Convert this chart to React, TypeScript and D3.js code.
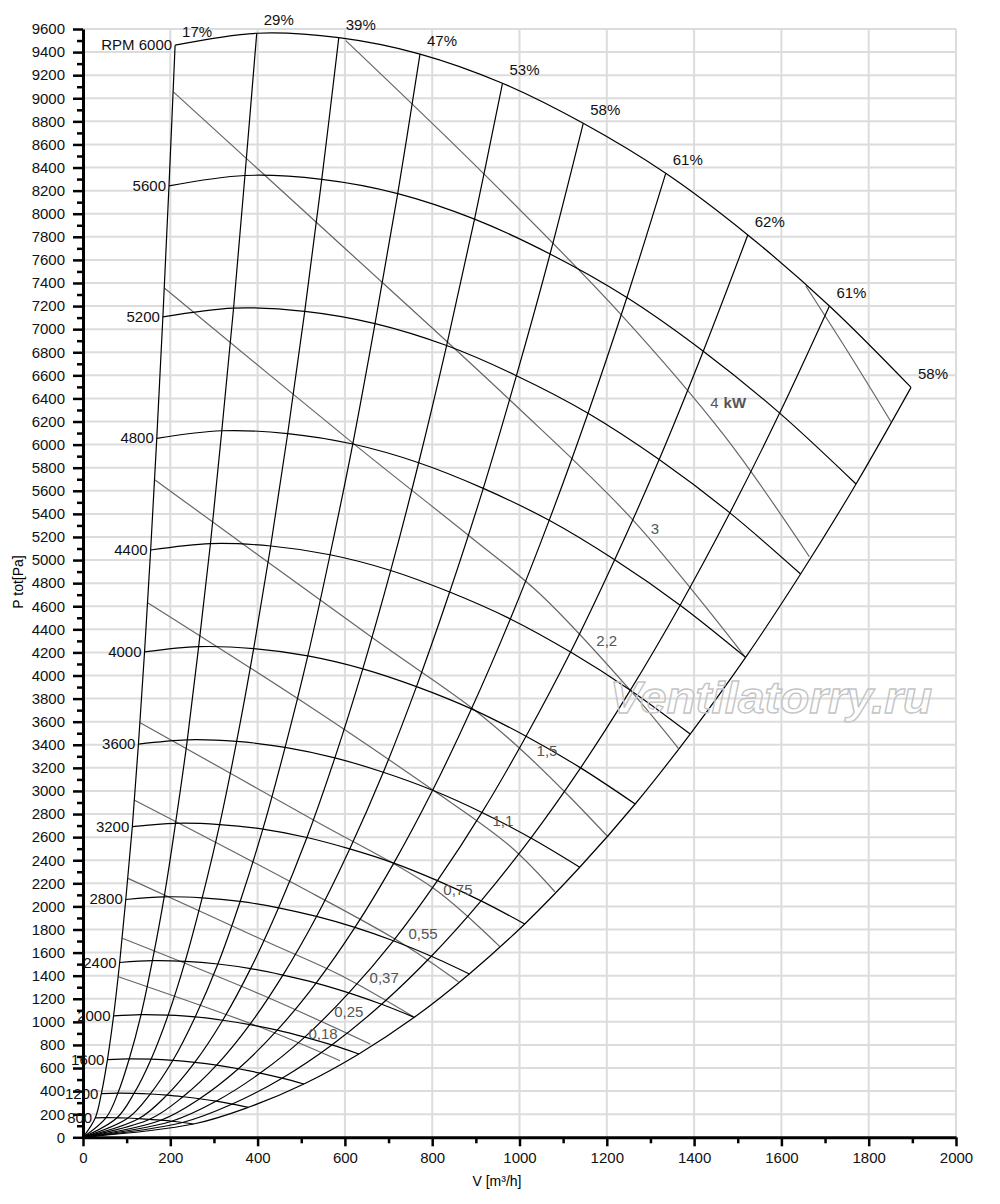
import { useEffect, useRef } from "react";
import * as d3 from "d3";

type Pt = [number, number];

const speeds = [800, 1200, 1600, 2000, 2400, 2800, 3200, 3600, 4000, 4400, 4800, 5200, 5600, 6000];
const speedLabels = ["800", "1200", "1600", "2000", "2400", "2800", "3200", "3600", "4000", "4400", "4800", "5200", "5600", "RPM 6000"];
const efficiencyLabels = ["17%", "29%", "39%", "47%", "53%", "58%", "61%", "62%", "61%", "58%"];

// V [m³/h] where each speed curve meets the ten efficiency lines (one row per speed)
const flowBySpeed = [
  [28, 53, 78, 103, 128, 153, 178, 203, 228, 253],
  [42, 80, 117, 154, 192, 229, 267, 305, 342, 379],
  [56, 106, 156, 206, 256, 306, 356, 406, 456, 506],
  [70, 133, 195, 257, 320, 382, 445, 508, 570, 632],
  [84, 159, 234, 309, 384, 458, 534, 609, 684, 759],
  [98, 186, 273, 360, 448, 535, 623, 711, 798, 885],
  [113, 212, 313, 412, 513, 611, 712, 812, 912, 1012],
  [127, 239, 352, 463, 577, 688, 801, 914, 1026, 1138],
  [141, 265, 391, 515, 641, 764, 890, 1015, 1140, 1265],
  [155, 292, 430, 566, 705, 840, 979, 1117, 1254, 1391],
  [169, 318, 469, 618, 769, 917, 1068, 1218, 1368, 1518],
  [183, 345, 508, 669, 833, 993, 1157, 1320, 1482, 1644],
  [197, 371, 547, 721, 897, 1070, 1246, 1421, 1596, 1771],
  [211, 398, 586, 772, 961, 1146, 1335, 1523, 1710, 1897],
];

// P tot [Pa] at the same points
const pressureBySpeed = [
  [168, 170, 169, 167, 162, 156, 148, 139, 128, 115],
  [378, 383, 381, 375, 365, 351, 334, 313, 288, 260],
  [673, 680, 677, 667, 649, 625, 594, 556, 512, 462],
  [1051, 1063, 1058, 1043, 1014, 976, 928, 868, 800, 722],
  [1514, 1530, 1524, 1501, 1461, 1405, 1336, 1251, 1152, 1039],
  [2060, 2083, 2074, 2043, 1988, 1913, 1818, 1702, 1568, 1415],
  [2691, 2720, 2709, 2669, 2597, 2498, 2375, 2223, 2048, 1848],
  [3406, 3443, 3429, 3378, 3287, 3162, 3006, 2814, 2592, 2339],
  [4204, 4250, 4233, 4170, 4058, 3904, 3711, 3474, 3200, 2887],
  [5087, 5143, 5122, 5046, 4910, 4723, 4490, 4203, 3873, 3493],
  [6054, 6120, 6096, 6005, 5843, 5621, 5344, 5002, 4609, 4157],
  [7106, 7183, 7154, 7048, 6858, 6597, 6272, 5871, 5409, 4879],
  [8241, 8331, 8297, 8174, 7953, 7651, 7274, 6809, 6273, 5659],
  [9460, 9563, 9525, 9383, 9130, 8783, 8350, 7816, 7201, 6496],
];

// motor power lines [V, P]
const powerLabels = ["", "4 kW", "3", "2,2", "1,5", "1,1", "0,75", "0,55", "0,37", "0,25", "0,18"];
const powerLines: Pt[][] = [
  [[1656, 7374], [1753, 6800], [1851, 6198]],
  [[602, 9499], [917, 8350], [1230, 7137], [1471, 6069], [1664, 5029]],
  [[207, 9055], [589, 7738], [978, 6386], [1260, 5346], [1517, 4160]],
  [[187, 7354], [619, 6011], [887, 5202], [1047, 4706], [1253, 3875], [1364, 3369]],
  [[165, 5694], [664, 4325], [891, 3719], [997, 3381], [1104, 2991], [1203, 2601]],
  [[148, 4631], [497, 3787], [795, 3025], [978, 2523], [1081, 2127]],
  [[131, 3591], [528, 2748], [802, 2159], [955, 1651]],
  [[117, 2922], [482, 2200], [726, 1692], [860, 1348]],
  [[103, 2243], [421, 1694], [589, 1406], [757, 1045]],
  [[90, 1724], [405, 1241], [658, 808]],
  [[81, 1391], [405, 955], [589, 663]],
];
const powerLabelAt: Pt[] = [
  [0, 0], [1478, 6364], [1310, 5272], [1200, 4302], [1063, 3349], [962, 2743],
  [859, 2146], [779, 1759], [690, 1378], [609, 1085], [550, 895],
];

const FONT = "'Liberation Sans', Arial, Helvetica, sans-serif";

const FanChart = () => {
  const ref = useRef<HTMLDivElement>(null);

  useEffect(() => {
    const width = 1000;
    const height = 1204;

    const svg = d3
      .select(ref.current)
      .html("")
      .append("svg")
      .attr("width", width)
      .attr("height", height)
      .style("position", "absolute")
      .style("left", "0px")
      .style("top", "0px")
      .style("background", "#fff");

    const x = d3.scaleLinear().domain([0, 2000]).range([83, 956]);
    const y = d3.scaleLinear().domain([0, 9600]).range([1137.3, 29]);

    const flowTicks = d3.range(0, 2001, 200);
    const pressureTicks = d3.range(0, 9601, 200);

    // grid
    const grid = svg.append("g").attr("stroke", "#dcdcdc").attr("stroke-width", 2);
    grid
      .selectAll("line.v")
      .data(flowTicks.slice(1))
      .join("line")
      .attr("x1", (d) => x(d))
      .attr("x2", (d) => x(d))
      .attr("y1", y(0))
      .attr("y2", y(9600));
    grid
      .selectAll("line.h")
      .data(pressureTicks.slice(1))
      .join("line")
      .attr("x1", x(0))
      .attr("x2", x(2000))
      .attr("y1", (d) => y(d))
      .attr("y2", (d) => y(d));

    const line = d3
      .line<Pt>()
      .x((d) => x(d[0]))
      .y((d) => y(d[1]))
      .curve(d3.curveCatmullRom.alpha(0.5));

    const speedCurves: Pt[][] = speeds.map((_, k) =>
      flowBySpeed[k].map((v, i) => [v, pressureBySpeed[k][i]] as Pt)
    );
    const effCurves: Pt[][] = efficiencyLabels.map((_, i) => [
      [0, 0] as Pt,
      ...speeds.map((_, k) => [flowBySpeed[k][i], pressureBySpeed[k][i]] as Pt),
    ]);

    // power lines
    svg
      .append("g")
      .selectAll("path")
      .data(powerLines)
      .join("path")
      .attr("d", (d) => line(d))
      .attr("fill", "none")
      .attr("stroke", "#666")
      .attr("stroke-width", 1.2);

    // efficiency lines
    svg
      .append("g")
      .selectAll("path")
      .data(effCurves)
      .join("path")
      .attr("d", (d) => line(d))
      .attr("fill", "none")
      .attr("stroke", "#000")
      .attr("stroke-width", 1.2);

    // speed curves
    svg
      .append("g")
      .selectAll("path")
      .data(speedCurves)
      .join("path")
      .attr("d", (d) => line(d))
      .attr("fill", "none")
      .attr("stroke", "#000")
      .attr("stroke-width", 1.2);

    // axes
    const styleAxis = (g: d3.Selection<SVGGElement, unknown, null, undefined>) => {
      g.attr("font-family", FONT).attr("font-size", 15);
      g.select(".domain").attr("stroke-width", 3);
      g.selectAll(".tick line").attr("stroke-width", 2.5);
      g.selectAll(".tick text").attr("fill", "#111");
    };
    const plain = (d: d3.NumberValue) => String(d);

    svg
      .append("g")
      .attr("transform", `translate(0,${y(0)})`)
      .call(d3.axisBottom(x).tickValues(d3.range(100, 2000, 200)).tickSize(6).tickFormat(() => ""))
      .call((g) => g.select(".domain").remove())
      .call((g) => g.selectAll(".tick line").attr("stroke-width", 2.5));
    svg
      .append("g")
      .attr("transform", `translate(${x(0)},0)`)
      .call(d3.axisLeft(y).tickValues(d3.range(100, 9600, 200)).tickSize(6).tickFormat(() => ""))
      .call((g) => g.select(".domain").remove())
      .call((g) => g.selectAll(".tick line").attr("stroke-width", 2.5));

    svg
      .append("g")
      .attr("transform", `translate(0,${y(0)})`)
      .call(d3.axisBottom(x).tickValues(flowTicks).tickFormat(plain).tickSize(9).tickPadding(6).tickSizeOuter(0))
      .call(styleAxis);
    svg
      .append("g")
      .attr("transform", `translate(${x(0)},0)`)
      .call(d3.axisLeft(y).tickValues(pressureTicks).tickFormat(plain).tickSize(10).tickPadding(8).tickSizeOuter(0))
      .call(styleAxis);

    // axis titles
    svg
      .append("text")
      .attr("x", 497)
      .attr("y", 1186)
      .attr("text-anchor", "middle")
      .attr("font-family", FONT)
      .attr("font-size", 14)
      .text("V [m³/h]");
    svg
      .append("text")
      .attr("transform", "translate(23,582) rotate(-90)")
      .attr("text-anchor", "middle")
      .attr("font-family", FONT)
      .attr("font-size", 14)
      .text("P tot[Pa]");

    // speed labels
    svg
      .append("g")
      .selectAll("text")
      .data(speedLabels)
      .join("text")
      .attr("x", (_, k) => x(flowBySpeed[k][0]) - 3)
      .attr("y", (_, k) => y(pressureBySpeed[k][0]) + 5)
      .attr("text-anchor", "end")
      .attr("font-family", FONT)
      .attr("font-size", 15)
      .attr("fill", "#111")
      .text((d) => d);

    // efficiency labels
    const top = flowBySpeed.length - 1;
    svg
      .append("g")
      .selectAll("text")
      .data(efficiencyLabels)
      .join("text")
      .attr("x", (_, i) => x(flowBySpeed[top][i]) + 22)
      .attr("y", (_, i) => y(pressureBySpeed[top][i]) - 8)
      .attr("text-anchor", "middle")
      .attr("font-family", FONT)
      .attr("font-size", 15)
      .attr("fill", "#111")
      .text((d) => d);

    // power labels
    const pl = svg
      .append("g")
      .selectAll("text")
      .data(powerLabels)
      .join("text")
      .attr("x", (_, i) => x(powerLabelAt[i][0]))
      .attr("y", (_, i) => y(powerLabelAt[i][1]) + 5)
      .attr("text-anchor", "middle")
      .attr("font-family", FONT)
      .attr("font-size", 15)
      .attr("fill", "#555");
    pl.each(function (d) {
      const t = d3.select(this);
      const parts = d.split(" ");
      t.append("tspan").text(parts[0]);
      if (parts[1]) t.append("tspan").attr("font-weight", "bold").attr("dx", 5).text(parts[1]);
    });

    // watermark
    svg
      .append("text")
      .attr("x", 771)
      .attr("y", 713)
      .attr("text-anchor", "middle")
      .attr("font-family", FONT)
      .attr("font-size", 44)
      .attr("font-style", "italic")
      .attr("font-weight", "bold")
      .attr("textLength", 322)
      .attr("lengthAdjust", "spacingAndGlyphs")
      .attr("fill", "none")
      .attr("stroke", "#c4c4c4")
      .attr("stroke-width", 1.3)
      .text("Ventilatorry.ru");
  }, []);

  return <div ref={ref} />;
};

export default function App() {
  return <FanChart />;
}
